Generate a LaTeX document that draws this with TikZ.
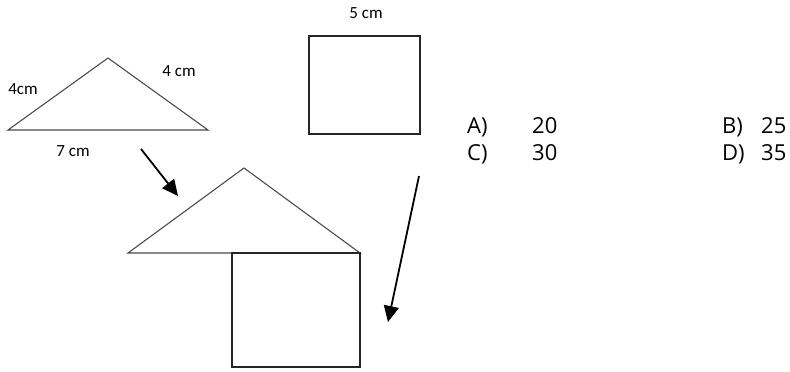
\documentclass[tikz,border=0pt]{standalone}
\usepackage{fontspec}
\setmainfont{Open Sans}
\newfontfamily\labelfont{Carlito}
\usetikzlibrary{arrows.meta}
\begin{document}
\begin{tikzpicture}[x=1pt,y=-1pt,
  tri/.style={draw=black!70,line width=1.1pt,line join=miter},
  sq/.style={draw=black!85,line width=1.2pt},
  bigarrow/.style={draw=black,line width=1.8pt,-{Triangle[length=16pt,width=15pt]}},
  lbl/.style={font=\labelfont\fontsize{17}{20}\selectfont,inner sep=0pt},
  ans/.style={font=\fontsize{22}{26}\selectfont,inner sep=0pt,anchor=base west}]
\useasboundingbox (0,0) rectangle (790,372);
% first triangle
\coordinate (t1l) at (8,130);
\coordinate (t1a) at (108,58);
\coordinate (t1r) at (208,130);
\draw[tri] (t1l) -- (t1a) -- (t1r) -- cycle;
\node[lbl] (l4a) at (23,89) {4cm};
\node[lbl] (l4b) at (179,71) {4 cm};
\node[lbl] (l7) at (73,151) {7 cm};
% first square
\draw[sq] (309,36) rectangle (420,134);
\node[lbl] (l5) at (366,13) {5 cm};
% house
\coordinate (t2l) at (128,253);
\coordinate (t2a) at (244,168);
\coordinate (t2r) at (360,253);
\draw[tri] (t2l) -- (t2a) -- (t2r) -- cycle;
\draw[sq] (232,253) rectangle (360,367);
% arrows
\coordinate (a1s) at (141,149);
\coordinate (a1e) at (178,196);
\coordinate (a2s) at (419,176);
\coordinate (a2e) at (388,322);
\draw[bigarrow] (a1s) -- (a1e);
\draw[bigarrow] (a2s) -- (a2e);
% answers
\node[ans] (qa) at (467,133) {A)};
\node[ans] (va) at (532,133) {20};
\node[ans] (qb) at (722,133) {B)};
\node[ans] (vb) at (761,133) {25};
\node[ans] (qc) at (467,160) {C)};
\node[ans] (vc) at (532,160) {30};
\node[ans] (qd) at (722,160) {D)};
\node[ans] (vd) at (761,160) {35};
\end{tikzpicture}
\end{document}
